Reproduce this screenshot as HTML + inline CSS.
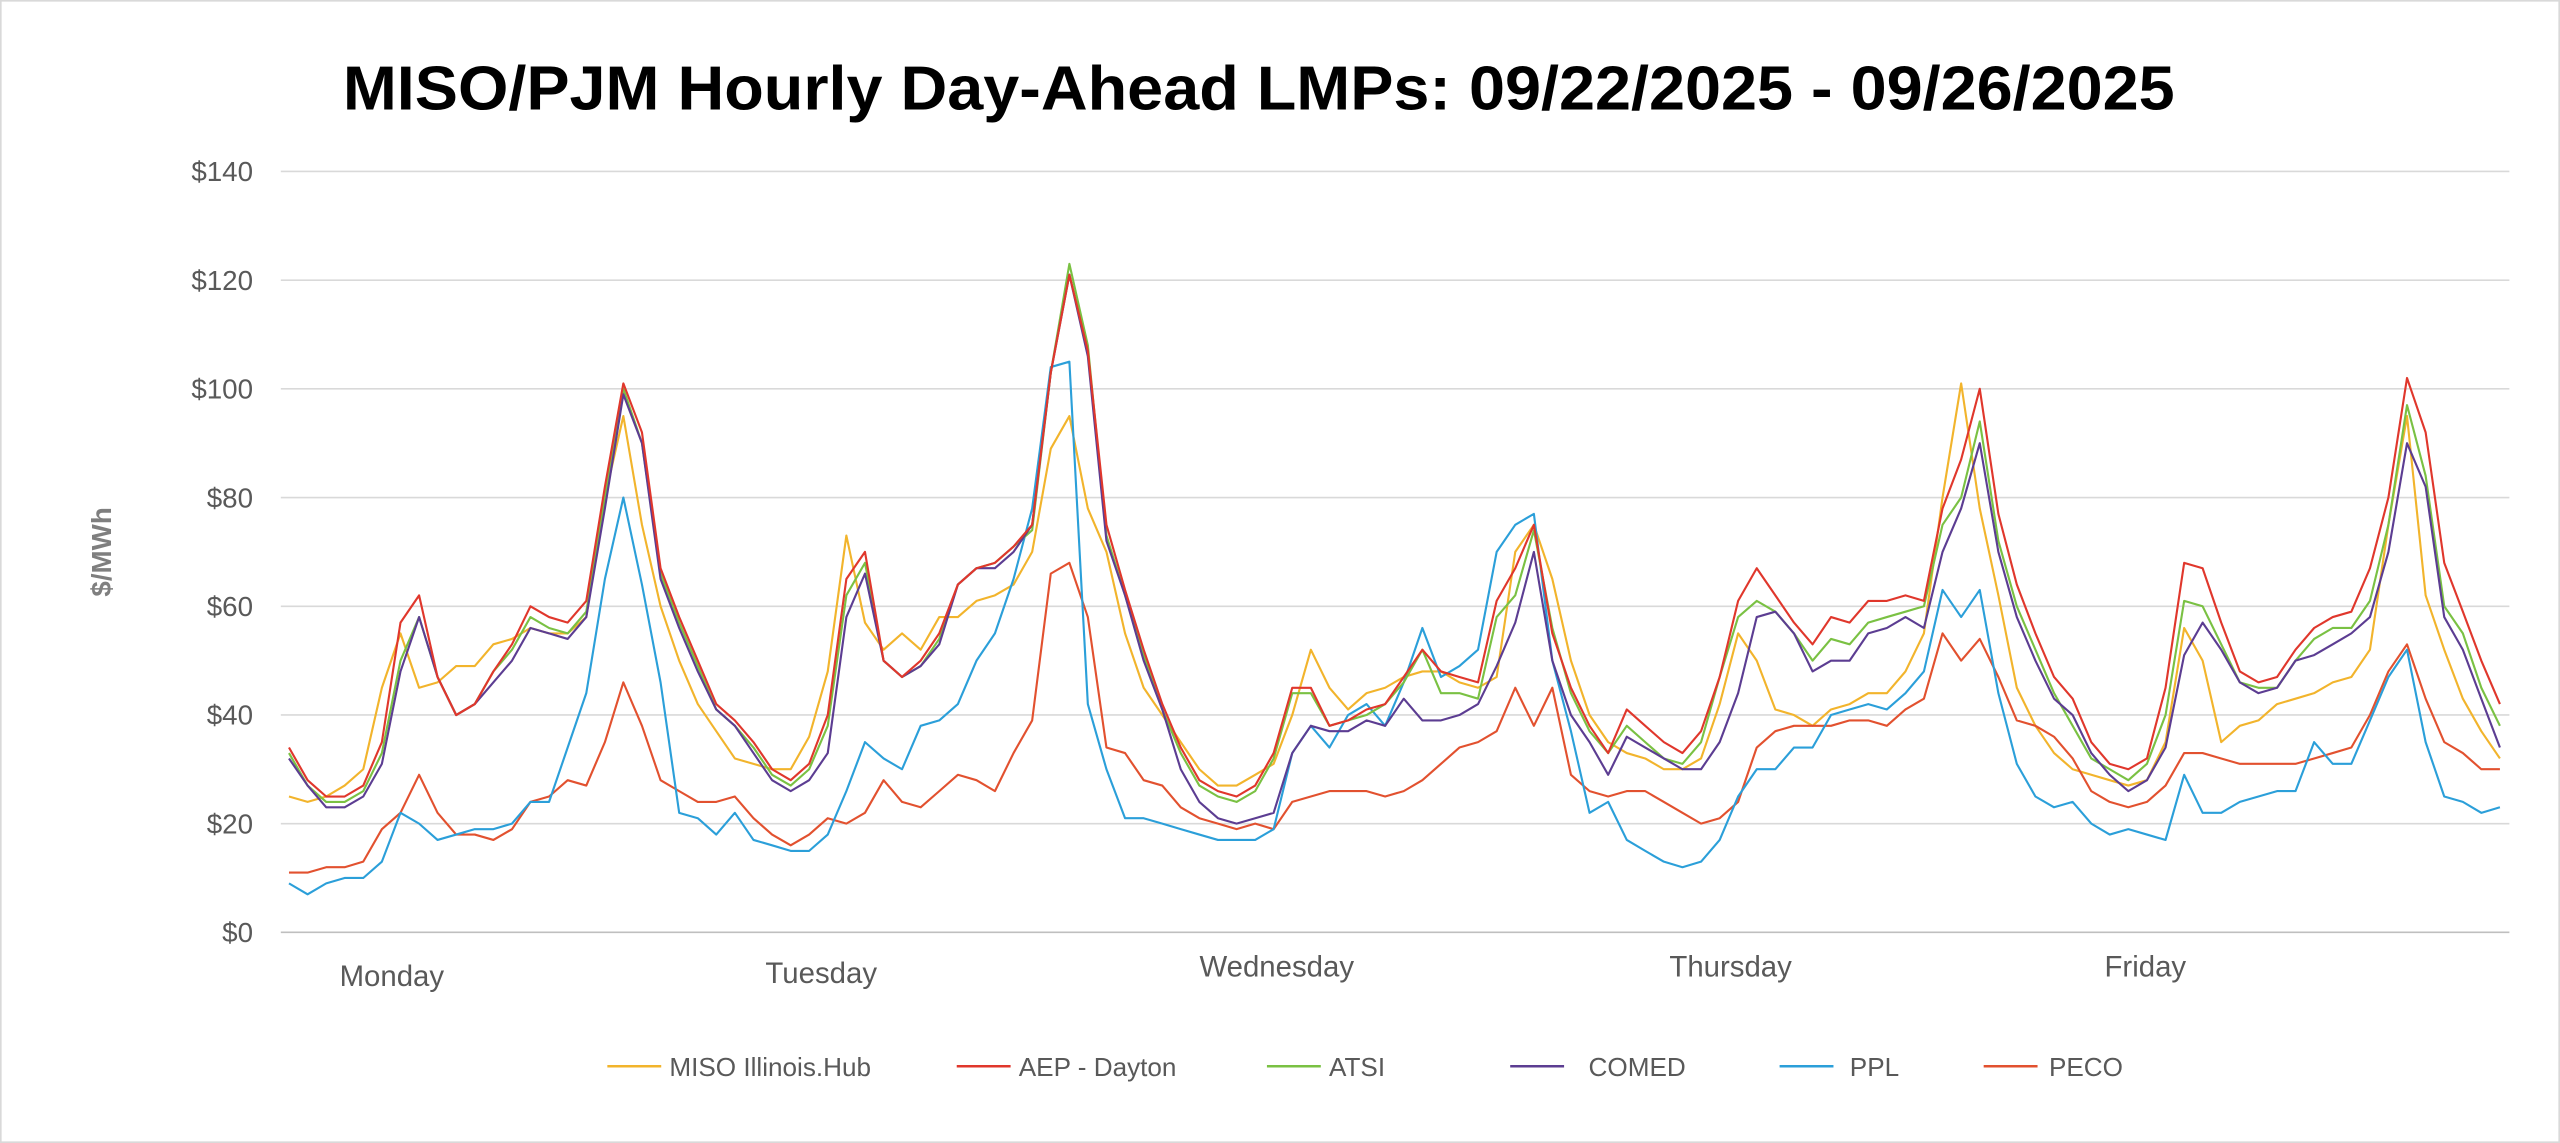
<!DOCTYPE html>
<html><head><meta charset="utf-8"><style>
html,body{margin:0;padding:0;background:#fff}
svg{display:block}
text{font-family:"Liberation Sans",sans-serif}
</style></head><body>
<svg id="s" width="2560" height="1143" viewBox="0 0 1568 700" preserveAspectRatio="none" xmlns="http://www.w3.org/2000/svg">
<rect x="0.5" y="0.5" width="1567" height="699" fill="#fff" stroke="#d9d9d9" stroke-width="1"/>
<text x="771" y="67" text-anchor="middle" font-size="38" font-weight="bold" fill="#000" textLength="1122" lengthAdjust="spacingAndGlyphs">MISO/PJM Hourly Day-Ahead LMPs: 09/22/2025 - 09/26/2025</text>
<g id="grid"></g>
<text transform="translate(68,338) rotate(-90)" text-anchor="middle" font-size="17" font-weight="bold" fill="#7f7f7f">$/MWh</text>
<g font-size="18" fill="#595959">
<text x="240" y="604" text-anchor="middle">Monday</text>
<text x="503" y="602" text-anchor="middle">Tuesday</text>
<text x="782" y="598" text-anchor="middle">Wednesday</text>
<text x="1060" y="598" text-anchor="middle">Thursday</text>
<text x="1314" y="598" text-anchor="middle">Friday</text>
</g>
<g id="series" fill="none" stroke-width="1.3" stroke-linejoin="round"></g>
<g font-size="16" fill="#595959">
<line x1="372" y1="653" x2="405" y2="653" stroke="#f2b42c" stroke-width="1.5"/><text x="410" y="659">MISO Illinois.Hub</text>
<line x1="586" y1="653" x2="619" y2="653" stroke="#e0372c" stroke-width="1.5"/><text x="624" y="659">AEP - Dayton</text>
<line x1="776" y1="653" x2="809" y2="653" stroke="#7ac143" stroke-width="1.5"/><text x="814" y="659">ATSI</text>
<line x1="925" y1="653" x2="958" y2="653" stroke="#5c3d92" stroke-width="1.5"/><text x="973" y="659">COMED</text>
<line x1="1090" y1="653" x2="1123" y2="653" stroke="#2b9fd9" stroke-width="1.5"/><text x="1133" y="659">PPL</text>
<line x1="1215" y1="653" x2="1248" y2="653" stroke="#e2512f" stroke-width="1.5"/><text x="1255" y="659">PECO</text>
</g>
</svg>
<script>
var NS="http://www.w3.org/2000/svg";
function Y(v){return 571-v*466/140;}
var g=document.getElementById('grid');
for(var k=0;k<=7;k++){var y=Y(k*20);
var l=document.createElementNS(NS,'line');l.setAttribute('x1',172);l.setAttribute('x2',1537);l.setAttribute('y1',y);l.setAttribute('y2',y);l.setAttribute('stroke',k==0?'#bfbfbf':'#d9d9d9');l.setAttribute('stroke-width',1);g.appendChild(l);
var t=document.createElementNS(NS,'text');t.setAttribute('x',155);t.setAttribute('y',y+6);t.setAttribute('text-anchor','end');t.setAttribute('font-size',17);t.setAttribute('fill','#595959');t.textContent='$'+(k*20);g.appendChild(t);}
var D={
"#f2b42c":[25,24,25,27,30,45,55,45,46,49,49,53,54,56,55,55,58,80,95,75,60,50,42,
37,32,31,30,30,36,48,73,57,52,55,52,58,58,61,62,64,70,89,95,78,70,55,45,
40,35,30,27,27,29,31,40,52,45,41,44,45,47,48,48,46,45,47,70,75,65,50,40,
35,33,32,30,30,32,42,55,50,41,40,38,41,42,44,44,48,55,80,101,78,62,45,38,
33,30,29,28,27,28,35,56,50,35,38,39,42,43,44,46,47,52,75,95,62,52,43,37,32],
"#e2512f":[11,11,12,12,13,19,22,29,22,18,18,17,19,24,25,28,27,35,46,38,28,26,24,
24,25,21,18,16,18,21,20,22,28,24,23,26,29,28,26,33,39,66,68,58,34,33,28,
27,23,21,20,19,20,19,24,25,26,26,26,25,26,28,31,34,35,37,45,38,45,29,26,
25,26,26,24,22,20,21,24,34,37,38,38,38,39,39,38,41,43,55,50,54,47,39,38,
36,32,26,24,23,24,27,33,33,32,31,31,31,31,32,33,34,40,48,53,43,35,33,30,30],
"#2b9fd9":[9,7,9,10,10,13,22,20,17,18,19,19,20,24,24,34,44,65,80,64,46,22,21,18,
22,17,16,15,15,18,26,35,32,30,38,39,42,50,55,65,78,104,105,42,30,21,21,20,
19,18,17,17,17,19,33,38,34,40,42,38,46,56,47,49,52,70,75,77,50,37,22,24,
17,15,13,12,13,17,25,30,30,34,34,40,41,42,41,44,48,63,58,63,44,31,25,23,
24,20,18,19,18,17,29,22,22,24,25,26,26,35,31,31,39,47,52,35,25,24,22,23],
"#7ac143":[33,27,24,24,26,33,50,58,47,40,42,48,52,58,56,55,59,80,100,90,66,57,49,41,
38,34,29,27,30,38,62,68,50,47,49,54,64,67,68,71,74,103,123,108,73,62,51,41,
33,27,25,24,26,32,44,44,38,39,40,42,46,52,44,44,43,58,62,74,56,44,37,33,
38,35,32,31,35,47,58,61,59,55,50,54,53,57,58,59,60,75,80,94,72,60,52,44,
38,32,30,28,31,40,61,60,53,46,45,45,50,54,56,56,61,75,97,84,60,55,45,38],
"#5c3d92":[32,27,23,23,25,31,48,58,47,40,42,46,50,56,55,54,58,78,99,90,65,56,48,41,
38,33,28,26,28,33,58,66,50,47,49,53,64,67,67,70,75,103,121,106,72,62,50,41,
30,24,21,20,21,22,33,38,37,37,39,38,43,39,39,40,42,49,57,70,50,40,35,29,
36,34,32,30,30,35,44,58,59,55,48,50,50,55,56,58,56,70,78,90,70,58,50,43,
40,33,29,26,28,34,51,57,52,46,44,45,50,51,53,55,58,70,90,82,58,52,43,34],
"#e0372c":[34,28,25,25,27,35,57,62,47,40,42,48,53,60,58,57,61,82,101,92,67,58,50,42,
39,35,30,28,31,40,65,70,50,47,50,55,64,67,68,71,75,103,121,107,75,63,52,42,
34,28,26,25,27,33,45,45,38,39,41,42,47,52,48,47,46,61,67,75,55,45,38,33,
41,38,35,33,37,47,61,67,62,57,53,58,57,61,61,62,61,78,87,100,77,64,55,47,
43,35,31,30,32,45,68,67,57,48,46,47,52,56,58,59,67,80,102,92,68,59,50,42]};
var s=document.getElementById('series');
for(var c in D){var p=D[c].map(function(v,i){return (177+i*11.38).toFixed(1)+','+Y(v).toFixed(1);}).join(' ');
var pl=document.createElementNS(NS,'polyline');pl.setAttribute('points',p);pl.setAttribute('stroke',c);s.appendChild(pl);}
</script>
</body></html>
